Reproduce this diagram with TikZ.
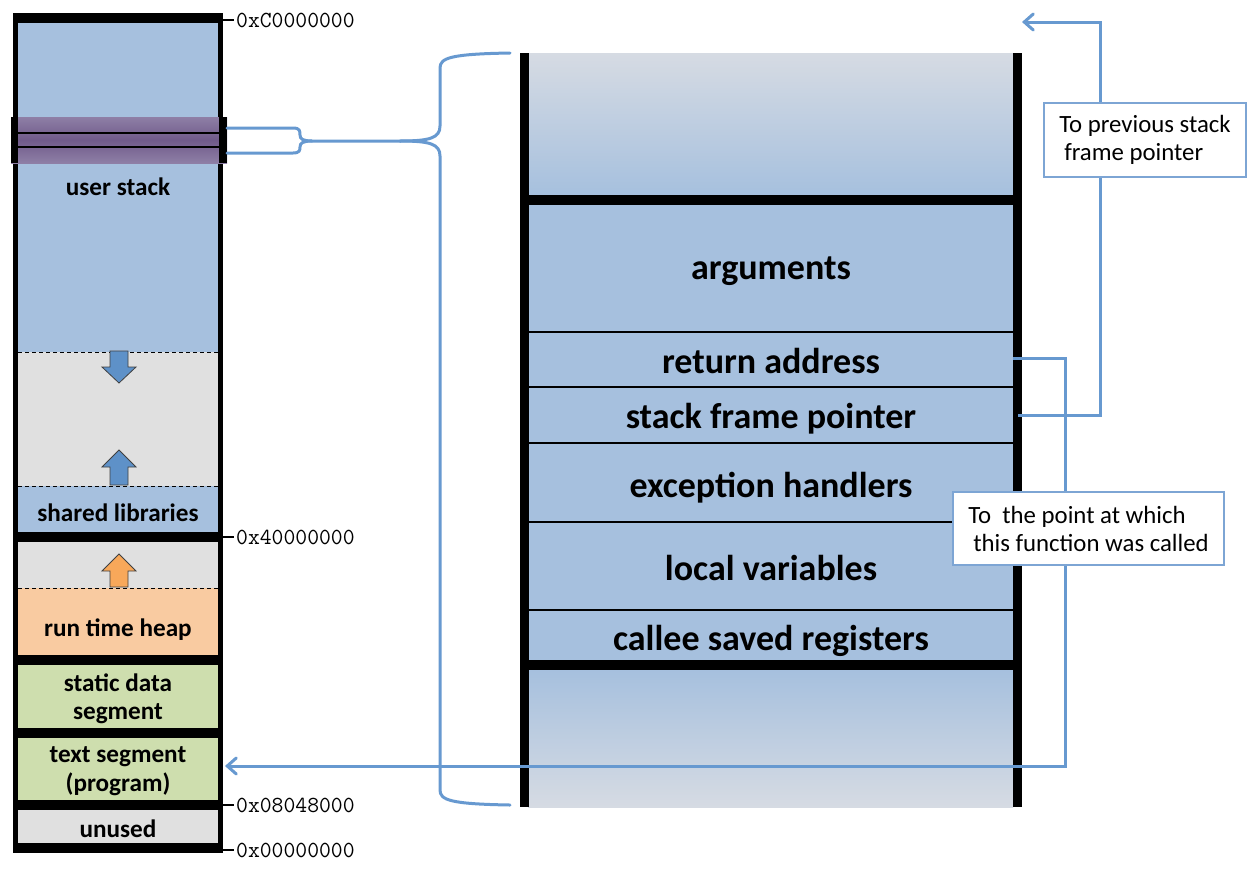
\documentclass[tikz,border=0pt]{standalone}
\usepackage{fontspec}
\setmainfont{Carlito}
\usetikzlibrary{arrows.meta,calc}
\definecolor{stackblue}{RGB}{166,192,222}
\definecolor{gapgrey}{RGB}{224,224,224}
\definecolor{heaporange}{RGB}{249,203,161}
\definecolor{seggreen}{RGB}{206,222,174}
\definecolor{linkblue}{RGB}{103,153,208}
\definecolor{arrowblue}{RGB}{94,145,200}
\definecolor{arroworange}{RGB}{248,168,90}
\definecolor{fadegrey}{RGB}{214,219,227}
\definecolor{bandpurple}{RGB}{112,90,138}
\definecolor{bandlight}{RGB}{142,127,166}
\definecolor{boxblue}{RGB}{125,165,212}
\tikzset{
  lbl/.style={font=\bfseries\fontsize{25.2}{28.5}\selectfont, align=center, inner sep=0pt},
  rowlbl/.style={font=\bfseries\fontsize{36}{41}\selectfont, inner sep=0pt, anchor=base},
  addr/.style={font=\ttfamily\fontsize{23}{26}\selectfont, anchor=west, inner sep=0pt},
  ticker/.style={line width=1.2pt},
  link/.style={draw=linkblue, line width=3pt},
  linkarrow/.style={link, -{Straight Barb[length=9pt,width=16pt,line cap=round]}},
  callout/.style={draw=boxblue, fill=white, line width=1.3pt, font=\fontsize{24.8}{28}\selectfont, align=left, inner sep=0pt},
  blockarrow/.style={draw=black!75, line width=0.8pt},
  dashsep/.style={dashed, dash pattern=on 4pt off 3pt, line width=1pt},
  thinsep/.style={line width=2pt}
}
\begin{document}
\begin{tikzpicture}[x=1pt,y=-1pt]
\useasboundingbox (0,0) rectangle (1252,868);
\fill[white] (0,0) rectangle (1252,868);

% ---------------- left memory column ----------------
\fill[black] (13,13) rectangle (223,853);
\fill[stackblue] (18,23) rectangle (218,352);
\fill[gapgrey] (18,352) rectangle (218,486);
\fill[stackblue] (18,486) rectangle (218,532);
\fill[gapgrey] (18,542) rectangle (218,588);
\fill[heaporange] (18,588) rectangle (218,655);
\fill[seggreen] (18,665) rectangle (218,728);
\fill[seggreen] (18,738) rectangle (218,800);
\fill[gapgrey] (18,810) rectangle (218,843);
\draw[dashsep] (18,352) -- (218,352);
\draw[dashsep] (18,486) -- (218,486);
\draw[dashsep] (18,588) -- (218,588);

% block arrows
\draw[blockarrow, fill=arrowblue] (110,351) -- (128,351) -- (128,367) -- (136,367) -- (119,383) -- (102,367) -- (110,367) -- cycle;
\draw[blockarrow, fill=arrowblue] (119,450) -- (136,467) -- (128,467) -- (128,485) -- (110,485) -- (110,467) -- (102,467) -- cycle;
\draw[blockarrow, fill=arroworange] (119,554) -- (136,571) -- (128,571) -- (128,587) -- (110,587) -- (110,571) -- (102,571) -- cycle;

% highlighted frame band
\shade[top color=bandlight, bottom color=bandlight, middle color=bandpurple] (11,117) rectangle (227,163);
\draw[line width=1.6pt] (13,133) -- (223,133);
\draw[line width=1.6pt] (13,147) -- (223,147);
\fill[black] (11,117) rectangle (18,163);
\fill[black] (219,117) rectangle (227,163);

% labels
\node[lbl, anchor=base] (ustack) at (118,195) {user stack};
\node[lbl, anchor=base] (shlib) at (118,521) {shared libraries};
\node[lbl, anchor=base] (heap) at (118,636) {run time heap};
\node[lbl] (sdata) at (118,699) {static data\\segment};
\node[lbl] (tseg) at (118,771) {text segment\\(program)};
\node[lbl, anchor=base] (unused) at (118,837) {unused};

% addresses
\draw[ticker] (223,20) -- (234,20);
\node[addr] (aC) at (236,20) {0xC0000000};
\draw[ticker] (223,537) -- (234,537);
\node[addr] (a4) at (236,537) {0x40000000};
\draw[ticker] (223,805) -- (234,805);
\node[addr] (a08) at (236,805) {0x08048000};
\draw[ticker] (223,850) -- (234,850);
\node[addr] (a0) at (236,850) {0x00000000};

% ---------------- right stack frame ----------------
\shade[top color=fadegrey, bottom color=stackblue] (528,53) rectangle (1013,195);
\fill[stackblue] (528,205) rectangle (1013,660);
\shade[top color=stackblue, bottom color=fadegrey] (528,670) rectangle (1013,807);
\fill[black] (520,195) rectangle (1022,205);
\fill[black] (520,660) rectangle (1022,670);
\foreach \yy in {332,387,443,522,610} \draw[thinsep] (528,\yy) -- (1013,\yy);
\fill[black] (520,53) rectangle (529,807);
\fill[black] (1013,53) rectangle (1022,807);

\node[rowlbl] (args) at (771,279) {arguments};
\node[rowlbl] (ret) at (771,373) {return address};
\node[rowlbl] (sfp) at (771,428) {stack frame pointer};
\node[rowlbl] (exc) at (771,497) {exception handlers};
\node[rowlbl] (loc) at (771,580) {local variables};
\node[rowlbl] (cal) at (771,650) {callee saved registers};

% ---------------- brace from band to frame ----------------
\coordinate (bandtop) at (227,128);
\coordinate (bandbot) at (227,153);
\coordinate (stem) at (400,141);
\coordinate (frametop) at (510,53);
\coordinate (framebot) at (510,805);
\draw[link, line cap=round] (bandtop) -- (293,128) .. controls (300,128) and (300,131) .. (300,135) .. controls (300,139) and (303,141) .. (312,141) -- (stem);
\draw[link, line cap=round] (bandbot) -- (293,153) .. controls (300,153) and (300,150) .. (300,147) .. controls (300,143) and (303,141) .. (312,141);
\draw[link, line cap=round] (stem) .. controls (430,141) and (440,138) .. (440,126) -- (440,68) .. controls (440,58) and (450,54) .. (frametop);
\draw[link, line cap=round] (stem) .. controls (430,141) and (440,144) .. (440,156) -- (440,790) .. controls (440,800) and (450,804) .. (framebot);

% ---------------- connectors ----------------
\coordinate (sfpout) at (1018,415);
\coordinate (prevfp) at (1022,22);
\coordinate (retout) at (1013,358);
\coordinate (textin) at (225,766);
\draw[linkarrow] (sfpout) -- ++(82,0) |- (prevfp);
\draw[linkarrow] (retout) -- ++(52,0) |- (textin);

% ---------------- callouts ----------------
\node[callout, minimum width=202pt, minimum height=74pt] (prevbox) at (1145,140) {To previous stack\\\hspace*{5pt}frame pointer};
\node[callout, minimum width=271pt, minimum height=73pt] (callbox) at (1088.5,528.5) {To\ \ the point at which\\\hspace*{5pt}this function was called};
\end{tikzpicture}
\end{document}
